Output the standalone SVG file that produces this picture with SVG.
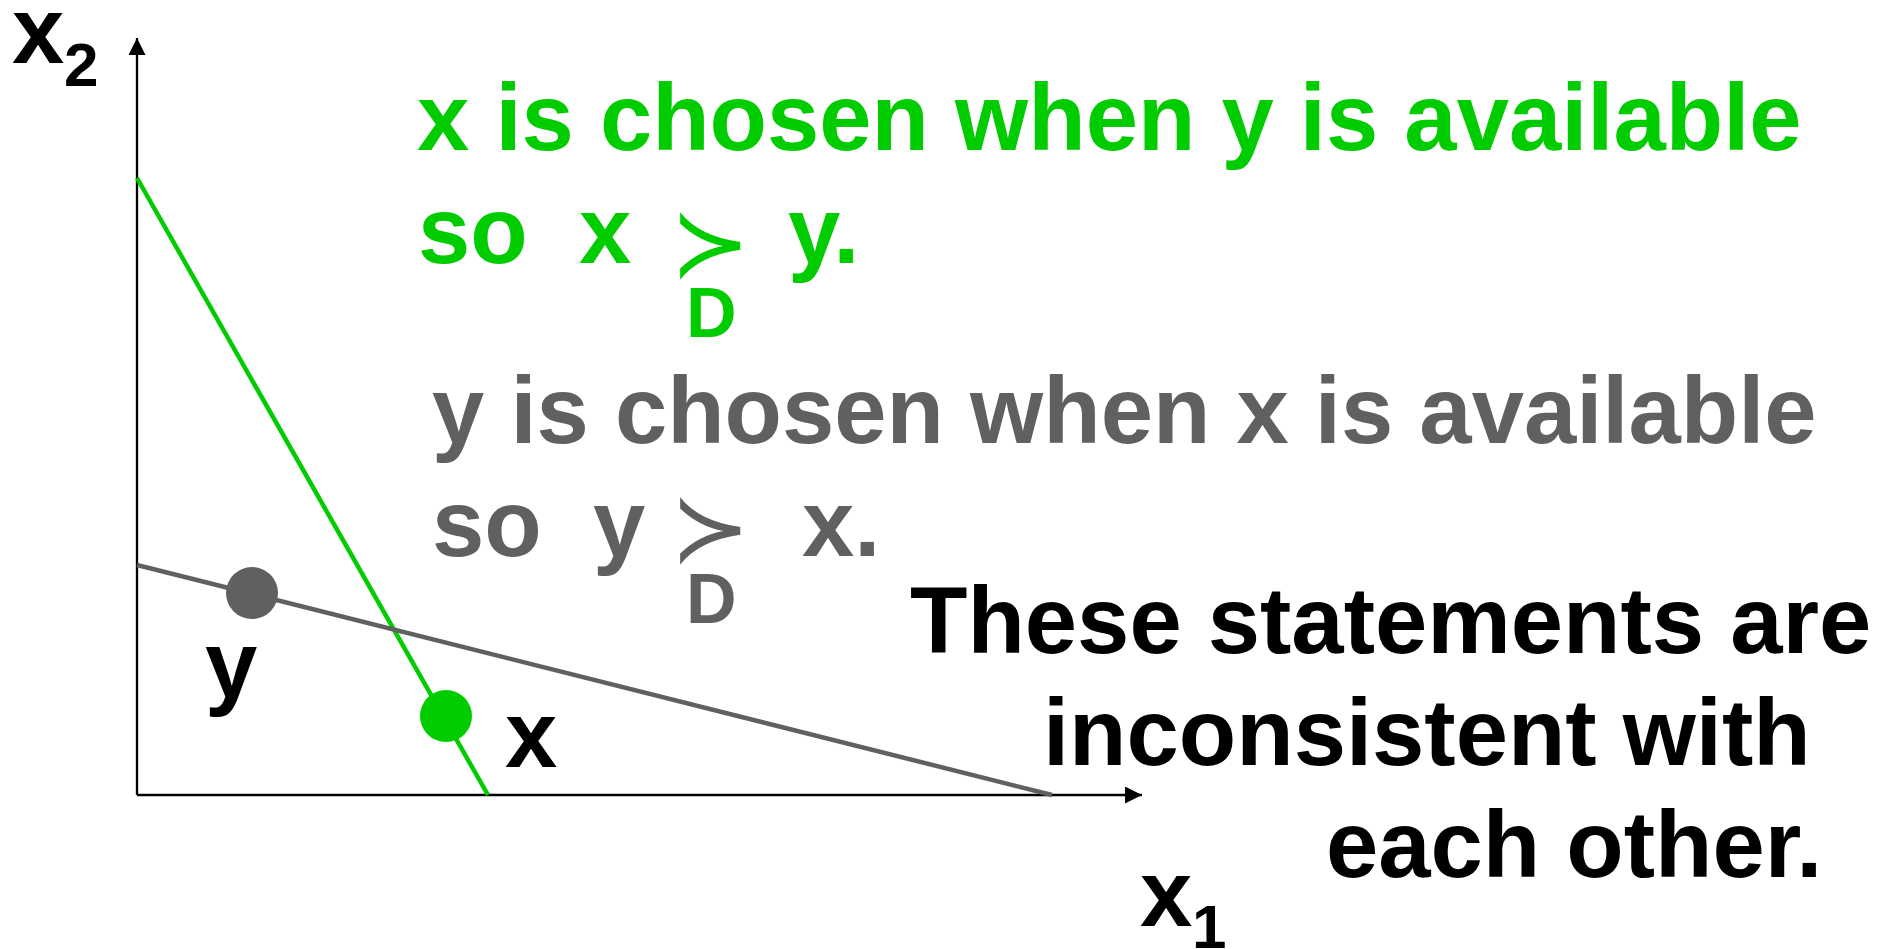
<svg xmlns="http://www.w3.org/2000/svg" width="1894" height="949" viewBox="0 0 1894 949">
  <style>
    .t { font-family: "Liberation Sans", Arial, sans-serif; font-weight: bold; }
    .big { font-size: 94px; }
    .sub { font-size: 62px; }
    .d { font-size: 70px; }
    .succ { font-family: "DejaVu Sans", sans-serif; font-size: 96px; }
    .green { fill: #00cc00; }
    .gray { fill: #606060; }
    .black { fill: #000000; }
  </style>
  <defs>
    <marker id="arrow" markerWidth="17" markerHeight="17" viewBox="0 0 17 17" refX="17" refY="8.5" markerUnits="userSpaceOnUse" orient="auto">
      <path d="M0,0 L17,8.5 L0,17 Z" fill="#000"/>
    </marker>
  </defs>
  <rect width="1894" height="949" fill="#ffffff"/>

  <g id="connectors">
    <line id="axis-x2" x1="137" y1="795" x2="137" y2="38" stroke="#000" stroke-width="2.3" marker-end="url(#arrow)"/>
    <line id="axis-x1" x1="137" y1="795" x2="1142" y2="795" stroke="#000" stroke-width="2.3" marker-end="url(#arrow)"/>
    <line id="budget-green" x1="137" y1="178" x2="488" y2="795" stroke="#00cc00" stroke-width="4.5"/>
    <line id="budget-gray" x1="137" y1="565" x2="1052" y2="795" stroke="#606060" stroke-width="4.5"/>
  </g>

  <g id="node-y">
    <circle cx="252" cy="593" r="26" fill="#606060"/>
    <text class="t big black" x="205" y="697">y</text>
  </g>
  <g id="node-x">
    <circle cx="446" cy="716" r="26" fill="#00cc00"/>
    <text class="t big black" x="505" y="767">x</text>
  </g>

  <g id="label-x2">
    <text class="t big black" x="12" y="63">x</text>
    <text class="t sub black" x="64" y="86">2</text>
  </g>
  <g id="label-x1">
    <text class="t big black" x="1140" y="926">x</text>
    <text class="t sub black" x="1192" y="948">1</text>
  </g>

  <g id="statement-green">
    <text class="t big green" x="417" y="150">x is chosen when y is available</text>
    <text class="t big green" x="418" y="263">so</text>
    <text class="t big green" x="579" y="263">x</text>
    <text class="succ green" x="670" y="276">≻</text>
    <text class="t d green" x="686" y="337">D</text>
    <text class="t big green" x="788" y="263">y.</text>
  </g>

  <g id="statement-gray">
    <text class="t big gray" x="432" y="443">y is chosen when x is available</text>
    <text class="t big gray" x="432" y="556">so</text>
    <text class="t big gray" x="593" y="556">y</text>
    <text class="succ gray" x="670" y="561">≻</text>
    <text class="t d gray" x="686" y="623">D</text>
    <text class="t big gray" x="802" y="556">x.</text>
  </g>

  <g id="conclusion">
    <text class="t big black" x="910" y="653">These statements are</text>
    <text class="t big black" x="1043" y="765">inconsistent with</text>
    <text class="t big black" x="1326" y="877">each other.</text>
  </g>
</svg>
